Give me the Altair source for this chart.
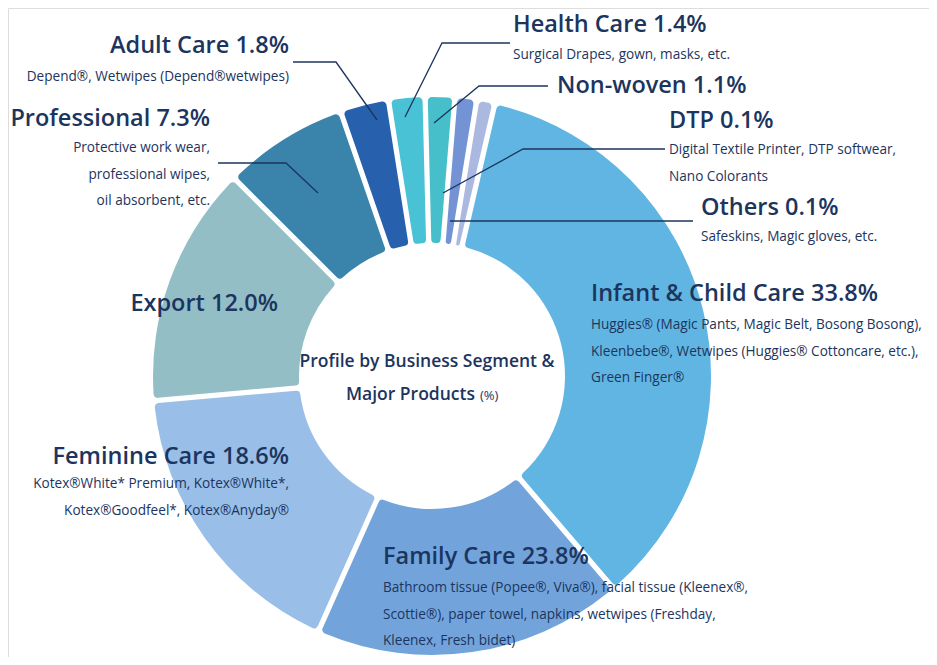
import altair as alt
import pandas as pd

# ---------------- data ----------------
segments = ["Infant & Child Care", "Family Care", "Feminine Care", "Export", "Professional",
            "Adult Care", "Health Care", "Non-woven", "DTP", "Others"]
# percentages printed on the chart
printed_pct = [33.8, 23.8, 18.6, 12.0, 7.3, 1.8, 1.4, 1.1, 0.1, 0.1]
# share of the ring each segment occupies in the picture (small ones are drawn enlarged)
drawn_share = [35.1, 17.9, 16.9, 13.9, 7.2, 2.8, 2.1, 1.7, 1.25, 1.05]
colors = ["#58b1e0", "#6a9fd9", "#93bbe6", "#8dbac3", "#2f7ca6",
          "#1b57a8", "#3fbfd3", "#3cbcc8", "#6d8dd2", "#a7b5df"]

products = [
    ["Huggies® (Magic Pants, Magic Belt, Bosong Bosong),",
     "Kleenbebe®, Wetwipes (Huggies® Cottoncare, etc.),",
     "Green Finger®"],
    ["Bathroom tissue (Popee®, Viva®), facial tissue (Kleenex®,",
     "Scottie®), paper towel, napkins, wetwipes (Freshday,",
     "Kleenex, Fresh bidet)"],
    ["Kotex®White* Premium, Kotex®White*,",
     "Kotex®Goodfeel*, Kotex®Anyday®"],
    [],
    ["Protective work wear,", "professional wipes,", "oil absorbent, etc."],
    ["Depend®, Wetwipes (Depend®wetwipes)"],
    ["Surgical Drapes, gown, masks, etc."],
    [],
    ["Digital Textile Printer, DTP softwear,", "Nano Colorants"],
    ["Safeskins, Magic gloves, etc."],
]

center_title = ["Profile by Business Segment &", "Major Products"]
center_unit = "(%)"

# ---------------- layout (page coordinates) ----------------
W, H = 921, 649
MARGIN = 8
CX, CY = 432, 376
R_OUT, R_IN = 279, 133
START = 0.2269  # ring starts ~13 deg clockwise from top

# label anchor: x, title y, first sub-line y, align
label_pos = [
    (591, 294, 325, "left"),
    (383, 557, 588, "left"),
    (289, 457, 484, "right"),
    (278, 304, None, "right"),
    (210, 119, 148, "right"),
    (289, 46, 77, "right"),
    (513, 25, 55, "left"),
    (557, 86, None, "left"),
    (669, 121, 150, "left"),
    (701, 208, 237, "left"),
]
LINE_STEP = 26.5

leaders = {
    "Adult Care": [(293, 62), (336, 62), (377, 120)],
    "Professional": [(218, 163), (286, 163), (318, 193)],
    "Health Care": [(510, 43), (442, 43), (405, 117)],
    "Non-woven": [(548, 86), (479, 86), (434, 123)],
    "DTP": [(665, 149), (523, 149), (443, 193)],
    "Others": [(693, 221), (450, 221)],
}

NAVY = "#1c355e"
FONT = "Open Sans"

# ---------------- tables ----------------
ring = pd.DataFrame({
    "segment": segments,
    "share": drawn_share,
    "pct": printed_pct,
    "idx": list(range(len(segments))),
})

rows = []
for seg, pct, prods, (x, ty, sy, al) in zip(segments, printed_pct, products, label_pos):
    rows.append({"x": x, "y": ty, "text": f"{seg} {pct:.1f}%", "kind": "title", "align": al})
    for i, line in enumerate(prods):
        rows.append({"x": x, "y": sy + i * LINE_STEP, "text": line, "kind": "sub", "align": al})
rows.append({"x": 427, "y": 362, "text": center_title[0], "kind": "center", "align": "center"})
rows.append({"x": 475, "y": 395, "text": center_title[1], "kind": "center", "align": "right"})
rows.append({"x": 480, "y": 396, "text": center_unit, "kind": "unit", "align": "left"})
labels = pd.DataFrame(rows)

lrows = []
for seg, pts in leaders.items():
    for k, (x, y) in enumerate(pts):
        lrows.append({"seg": seg, "k": k, "x": x, "y": y})
lines = pd.DataFrame(lrows)

xs = alt.Scale(domain=[MARGIN, MARGIN + W], nice=False, zero=False)
ys = alt.Scale(domain=[MARGIN + H, MARGIN], nice=False, zero=False)
X = alt.X("x:Q", scale=xs, axis=None)
Y = alt.Y("y:Q", scale=ys, axis=None)

# ---------------- marks ----------------
donut = alt.Chart(ring).mark_arc(
    innerRadius=R_IN, outerRadius=R_OUT, padAngle=0.017, cornerRadius=4, opacity=0.95
).encode(
    theta=alt.Theta("share:Q", stack=True,
                    scale=alt.Scale(type="linear", range=[START, START + 6.283185])),
    color=alt.Color("segment:N", scale=alt.Scale(domain=segments, range=colors), legend=None),
    order=alt.Order("idx:Q"),
    x=alt.value(CX - MARGIN),
    y=alt.value(CY - MARGIN),
)

leader = alt.Chart(lines).mark_line(color=NAVY, strokeWidth=1.3).encode(
    x=X, y=Y, detail="seg:N", order="k:Q"
)

def text_layer(kind, align, size, weight):
    return alt.Chart(labels).transform_filter(
        (alt.datum.kind == kind) & (alt.datum.align == align)
    ).mark_text(align=align, baseline="middle", font=FONT, fontSize=size,
                fontWeight=weight, color=NAVY).encode(x=X, y=Y, text="text:N")

layers = [donut, leader]
for al in ["left", "right"]:
    layers.append(text_layer("title", al, 23.5, 600))
    layers.append(text_layer("sub", al, 13.6, 400))
layers.append(text_layer("center", "center", 17.5, 600))
layers.append(text_layer("center", "right", 17.5, 600))
layers.append(text_layer("unit", "left", 13, 400))

chart = alt.layer(*layers).properties(
    width=W, height=H, padding=0, autosize=alt.AutoSizeParams(type="none")
).configure_view(stroke=None).configure(background="white")

chart.save("out.html", embed_options={"renderer": "svg", "actions": False})
